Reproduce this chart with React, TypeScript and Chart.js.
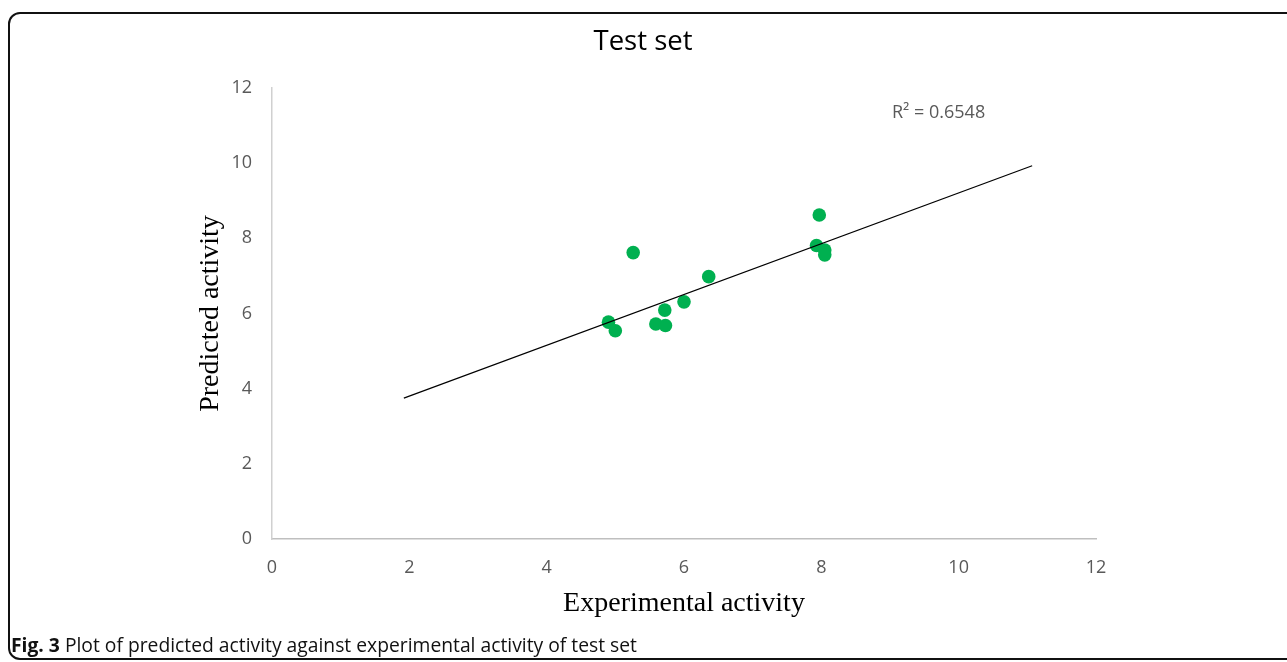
import React, { useEffect, useRef } from "react";
import { Chart, registerables } from "chart.js";

Chart.register(...registerables);

const chartTitle = "Test set";
const xAxisTitle = "Experimental activity";
const yAxisTitle = "Predicted activity";
const experimental = [5.26, 6.36, 6.0, 5.72, 5.59, 5.73, 4.9, 5.0, 7.97, 7.93, 8.05, 8.05];
const predicted = [7.62, 6.98, 6.31, 6.09, 5.72, 5.68, 5.77, 5.54, 8.62, 7.81, 7.69, 7.56];
const trendX = [1.92, 11.07];
const trendY = [3.75, 9.93];
const axisMin = 0;
const axisMax = 12;
const axisStep = 2;
const rSquaredLabel = "R² = 0.6548";
const captionBold = "Fig. 3";
const captionText = " Plot of predicted activity against experimental activity of test set";

const TICK_FONT = "'Open Sans', sans-serif";
const SERIF = "'Liberation Serif', 'Times New Roman', serif";

const rSquaredPlugin = {
  id: "rSquared",
  afterDatasetsDraw(chart: any) {
    const { ctx, chartArea } = chart;
    ctx.save();
    ctx.font = `18px ${TICK_FONT}`;
    ctx.fillStyle = "#595959";
    ctx.textAlign = "left";
    ctx.textBaseline = "middle";
    ctx.fillText(rSquaredLabel, chartArea.left + 620, chartArea.top + 25);
    ctx.restore();
  },
};

export default function App() {
  const canvasRef = useRef<HTMLCanvasElement | null>(null);

  useEffect(() => {
    if (!canvasRef.current) return;
    const scatterData = experimental.map((x, i) => ({ x, y: predicted[i] }));
    const trendData = trendX.map((x, i) => ({ x, y: trendY[i] }));
    const chart = new Chart(canvasRef.current, {
      type: "scatter",
      data: {
        datasets: [
          {
            label: "Test set",
            data: scatterData,
            backgroundColor: "#00B050",
            borderWidth: 0,
            pointRadius: 6.8,
            pointHoverRadius: 6.8,
            order: 1,
          },
          {
            label: "Trend",
            type: "line",
            data: trendData,
            borderColor: "#000000",
            borderWidth: 1.2,
            pointRadius: 0,
            showLine: true,
            fill: false,
            order: 0,
          } as any,
        ],
      },
      options: {
        animation: false,
        responsive: false,
        maintainAspectRatio: false,
        layout: { padding: { left: 190, right: 191, top: 10, bottom: 41.2 } },
        plugins: {
          legend: { display: false },
          tooltip: { enabled: false },
          title: {
            display: true,
            text: chartTitle,
            color: "#000000",
            font: { family: TICK_FONT, size: 27.5, weight: "normal" as any, lineHeight: 1.2 },
            padding: { top: 16, bottom: 29 },
          },
        },
        scales: {
          x: {
            type: "linear",
            min: axisMin,
            max: axisMax,
            afterFit: (scale: any) => {
              scale.height = 81.8;
            },
            ticks: {
              stepSize: axisStep,
              color: "#595959",
              font: { family: TICK_FONT, size: 18 },
              padding: 18,
            },
            grid: { display: false, drawTicks: false },
            border: { display: true, color: "#bfbfbf", width: 1.5 },
            title: {
              display: true,
              text: xAxisTitle,
              color: "#000000",
              font: { family: SERIF, size: 28, lineHeight: 1.2 },
              padding: { top: 0, bottom: 0 },
            },
          },
          y: {
            type: "linear",
            min: axisMin,
            max: axisMax,
            afterFit: (scale: any) => {
              scale.width = 82;
            },
            ticks: {
              stepSize: axisStep,
              color: "#595959",
              font: { family: TICK_FONT, size: 18 },
              padding: 20,
            },
            grid: { display: false, drawTicks: false },
            border: { display: true, color: "#d0d0d0", width: 1.5 },
            title: {
              display: true,
              text: yAxisTitle,
              color: "#000000",
              font: { family: SERIF, size: 28, lineHeight: 1.2 },
              padding: { top: 4.2, bottom: 0 },
            },
          },
        },
      },
      plugins: [rSquaredPlugin],
    });
    return () => chart.destroy();
  }, []);

  return (
    <div
      style={{
        position: "fixed",
        left: 0,
        top: 0,
        width: 1287,
        height: 662,
        overflow: "hidden",
        background: "#ffffff",
      }}
    >
      <canvas
        ref={canvasRef}
        width={1287}
        height={662}
        style={{ position: "absolute", left: 0, top: 0, width: 1287, height: 662 }}
      />
      <div
        style={{
          position: "absolute",
          left: 8,
          top: 12,
          width: 1320,
          height: 648,
          border: "2px solid #111111",
          borderRadius: 12,
          boxSizing: "border-box",
          pointerEvents: "none",
        }}
      />
      <div
        style={{
          position: "absolute",
          left: 11,
          top: 633,
          fontFamily: TICK_FONT,
          fontSize: 19.3,
          lineHeight: "24px",
          color: "#111111",
          whiteSpace: "nowrap",
        }}
      >
        <b style={{ fontWeight: 700 }}>{captionBold}</b>
        <span>{captionText}</span>
      </div>
    </div>
  );
}
